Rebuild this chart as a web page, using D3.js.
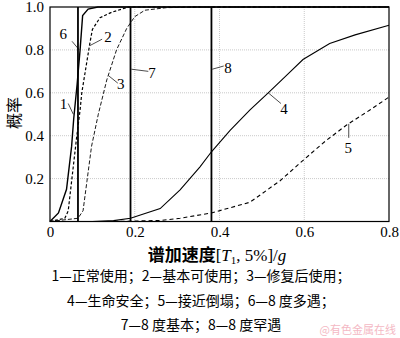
<!DOCTYPE html>
<html>
<head>
<meta charset="utf-8">
<script src="https://cdn.jsdelivr.net/npm/d3@7"></script>
<style>
  body { margin: 0; background: #fff; }
  .tick text { font-family: "Liberation Serif", "Times New Roman", "DejaVu Serif", serif; font-size: 15px; fill: #000; }
  .lbl { font-family: "Liberation Serif", "Times New Roman", "DejaVu Serif", serif; font-size: 15px; }
  .cn { font-family: "Noto Sans CJK SC", sans-serif; }
  .ser { font-family: "Liberation Serif", "Times New Roman", serif; }
</style>
</head>
<body>
<div id="chart"></div>
<script>
// curves: [x, probability]
var normalUse = [[0,0],[0.02,0.04],[0.039,0.15],[0.051,0.35],[0.056,0.48],[0.064,0.64],[0.071,0.8],[0.077,0.96],[0.09,0.99],[0.113,1],[0.8,1]];
var basicUse  = [[0,0],[0.035,0.015],[0.043,0.05],[0.063,0.395],[0.071,0.52],[0.075,0.6],[0.094,0.83],[0.1,0.895],[0.118,0.95],[0.145,0.975],[0.185,1],[0.8,1]];
var repairUse = [[0,0],[0.066,0.015],[0.078,0.05],[0.087,0.185],[0.098,0.35],[0.114,0.5],[0.134,0.66],[0.157,0.8],[0.181,0.9],[0.2,0.955],[0.224,0.985],[0.275,0.997],[0.35,1],[0.8,1]];
var lifeSafe  = [[0.1,0],[0.15,0.004],[0.19,0.015],[0.26,0.06],[0.307,0.147],[0.354,0.255],[0.381,0.325],[0.425,0.425],[0.472,0.52],[0.515,0.6],[0.56,0.685],[0.597,0.755],[0.66,0.83],[0.72,0.87],[0.8,0.915]];
var collapse  = [[0.15,0],[0.26,0.005],[0.307,0.015],[0.381,0.04],[0.472,0.09],[0.543,0.19],[0.6,0.29],[0.65,0.375],[0.7,0.45],[0.755,0.52],[0.8,0.58]];
var eqLevels = [0.066, 0.19, 0.381]; // 6: 8度多遇, 7: 8度基本, 8: 8度罕遇
var xTicks = [0, 0.2, 0.4, 0.6, 0.8];
var yTicks = [0.2, 0.4, 0.6, 0.8, 1.0];
var captions = ["1—正常使用；2—基本可使用；3—修复后使用；", "4—生命安全；5—接近倒塌；6—8 度多遇；", "7—8 度基本；8—8 度罕遇"];

var W = 400, H = 338;
var margin = {top: 7, right: 11, bottom: 116.5, left: 50};
var width = W - margin.left - margin.right,
    height = H - margin.top - margin.bottom;

var root = d3.select("#chart").append("svg")
    .attr("width", W).attr("height", H);
var svg = root.append("g")
    .attr("transform", "translate(" + margin.left + "," + margin.top + ")");

var x = d3.scaleLinear().domain([0, 0.8]).range([0, width]);
var y = d3.scaleLinear().domain([0, 1]).range([height, 0]);

// grid
svg.selectAll(".gx").data(xTicks.slice(1, 4)).enter().append("line")
    .attr("x1", d => x(d)).attr("x2", d => x(d))
    .attr("y1", 0).attr("y2", height)
    .style("stroke", "#bbb").style("stroke-width", 0.8).style("stroke-dasharray", "1,1");
svg.selectAll(".gy").data(yTicks.slice(0, 4)).enter().append("line")
    .attr("x1", 0).attr("x2", width)
    .attr("y1", d => y(d)).attr("y2", d => y(d))
    .style("stroke", "#bbb").style("stroke-width", 0.8).style("stroke-dasharray", "1,1");

// axes
svg.append("g")
    .attr("transform", "translate(0," + height + ")")
    .call(d3.axisBottom(x).tickValues(xTicks).tickSize(0).tickPadding(5).tickFormat(d => d === 0 ? "0" : d3.format(".1f")(d)))
    .call(g => g.select(".domain").remove())
    .attr("font-family", null);
svg.append("g")
    .call(d3.axisLeft(y).tickValues(yTicks).tickSize(0).tickPadding(6).tickFormat(d3.format(".1f")))
    .call(g => g.select(".domain").remove())
    .attr("font-family", null);

svg.append("rect")
    .attr("width", width).attr("height", height)
    .style("fill", "none").style("stroke", "#000").style("stroke-width", 1.2);

// curves
var line = d3.line().x(d => x(d[0])).y(d => y(d[1]));
var curves = [
    {data: normalUse, w: 1.4, dash: null},
    {data: basicUse, w: 1.2, dash: "3,2"},
    {data: repairUse, w: 0.9, dash: "4,2"},
    {data: lifeSafe, w: 1.1, dash: null},
    {data: collapse, w: 1.1, dash: "4,3"}
];
curves.forEach(function(c) {
    svg.append("path").datum(c.data)
        .attr("d", line)
        .style("fill", "none").style("stroke", "#000")
        .style("stroke-width", c.w)
        .style("stroke-dasharray", c.dash);
});

// earthquake level vertical lines
svg.selectAll(".eq").data(eqLevels).enter().append("line")
    .attr("x1", d => x(d)).attr("x2", d => x(d))
    .attr("y1", y(0)).attr("y2", y(1))
    .style("stroke", "#000").style("stroke-width", 1.8);

// leader labels: [text, lineFromX, lineFromY, lineToX, lineToY, textX, textY] in data units
var labels = [
    ["1", 0.055, 0.5, 0.043, 0.55, 0.032, 0.55],
    ["6", 0.069, 0.8, 0.052, 0.84, 0.031, 0.875],
    ["2", 0.094, 0.82, 0.123, 0.85, 0.137, 0.86],
    ["3", 0.138, 0.68, 0.16, 0.645, 0.167, 0.64],
    ["7", 0.192, 0.71, 0.232, 0.7, 0.241, 0.695],
    ["8", 0.383, 0.71, 0.41, 0.725, 0.42, 0.715],
    ["4", 0.515, 0.6, 0.545, 0.55, 0.552, 0.525],
    ["5", 0.705, 0.455, 0.705, 0.39, 0.704, 0.345]
];
labels.forEach(function(l) {
    svg.append("line")
        .attr("x1", x(l[1])).attr("y1", y(l[2]))
        .attr("x2", x(l[3])).attr("y2", y(l[4]))
        .style("stroke", "#000").style("stroke-width", 0.7);
    svg.append("text").attr("class", "lbl")
        .attr("x", x(l[5])).attr("y", y(l[6]))
        .attr("text-anchor", "middle").attr("dy", "0.35em")
        .text(l[0]);
});

// axis titles
root.append("text")
    .attr("class", "cn")
    .attr("transform", "translate(20,113) rotate(-90)")
    .attr("text-anchor", "middle")
    .style("font-size", "16px")
    .text("概率");

var xt = root.append("text")
    .attr("x", 217).attr("y", 261)
    .attr("text-anchor", "middle")
    .style("font-size", "17px");
xt.append("tspan").attr("class", "cn").style("font-weight", "bold").text("谱加速度");
xt.append("tspan").attr("class", "ser").text("[");
xt.append("tspan").attr("class", "ser").style("font-style", "italic").text("T");
xt.append("tspan").attr("class", "ser").style("font-size", "11px").attr("dy", 3).text("1");
xt.append("tspan").attr("class", "ser").attr("dy", -3).text(", 5%]/");
xt.append("tspan").attr("class", "ser").style("font-style", "italic").text("g");

// caption
root.selectAll(".cap").data(captions).enter().append("text")
    .attr("class", "cn")
    .attr("x", 201).attr("y", (d, i) => 281 + i * 24.5)
    .attr("text-anchor", "middle")
    .style("font-size", "14px")
    .text(d => d);

root.append("text")
    .attr("class", "cn")
    .attr("x", 396).attr("y", 334)
    .attr("text-anchor", "end")
    .style("font-size", "11px").style("fill", "#f4b9c4")
    .text("@有色金属在线");
</script>
</body>
</html>
